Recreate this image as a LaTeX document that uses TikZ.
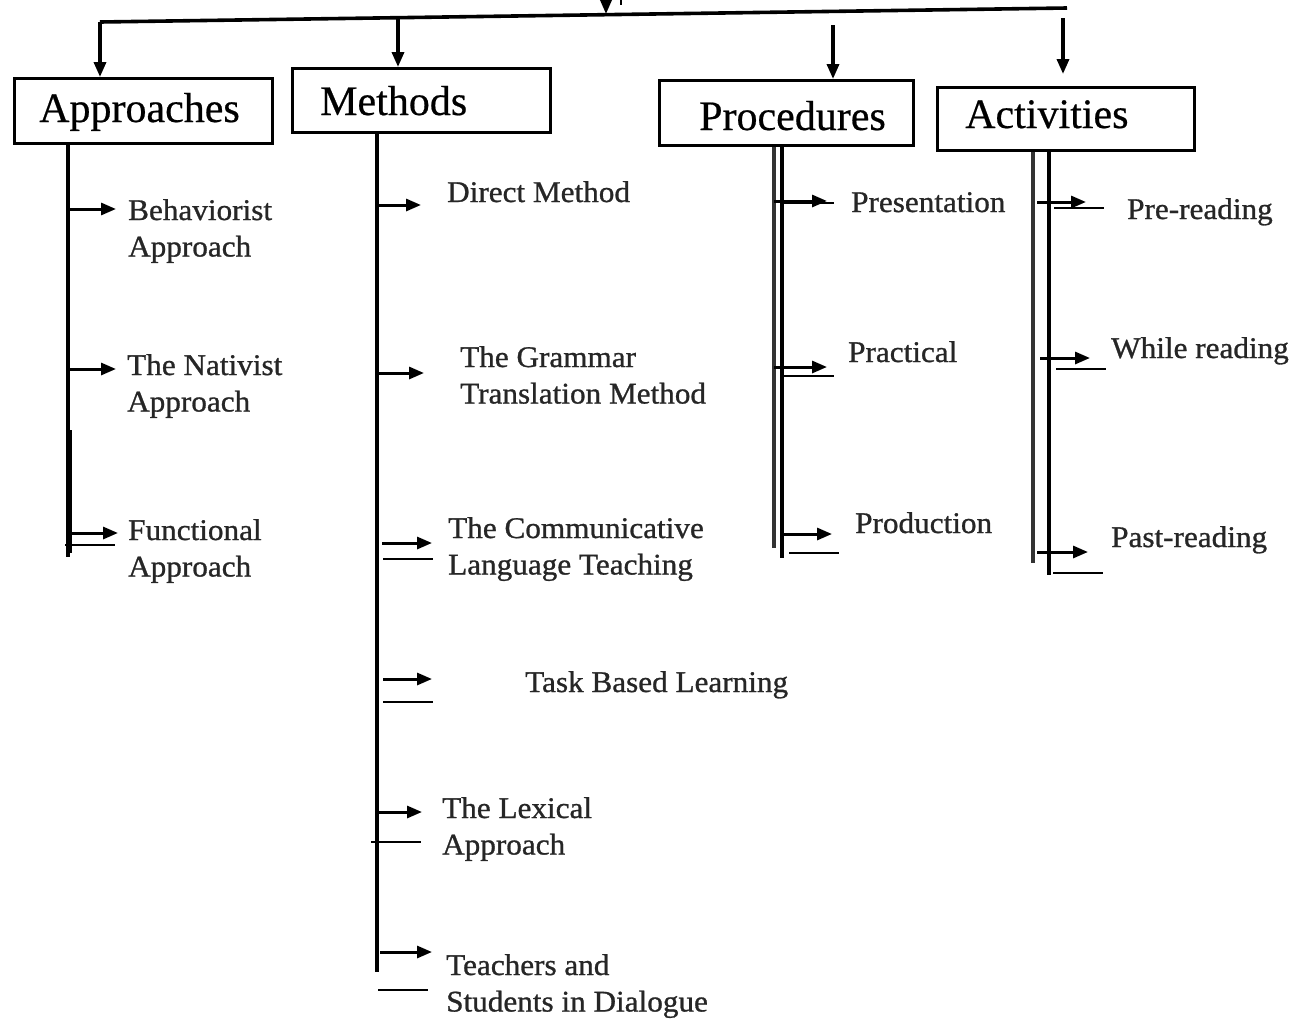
\documentclass[tikz,border=0pt]{standalone}
\usepackage{fontspec}
\setmainfont{Liberation Serif}[FakeBold=0.4]
\newfontfamily\lblfont{Liberation Serif}[FakeStretch=1.04,FakeBold=0.9]
\newfontfamily\boxfont{Liberation Serif}[FakeBold=0.5]
\usetikzlibrary{arrows.meta}
\newcommand\twolines[2]{\begin{tabular}[t]{@{}l@{}}#1\\#2\end{tabular}}
\begin{document}
\begin{tikzpicture}[x=1pt,y=-1pt,
  trunk/.style={line width=3.6pt},
  trunkg/.style={line width=3.2pt,black!80},
  arr/.style={line width=3pt,-{Triangle[length=15pt,width=12pt]}},
  uline/.style={line width=1.8pt},
  box/.style={draw,line width=3.4pt,inner sep=0pt,anchor=north west},
  boxtxt/.style={font=\boxfont\fontsize{42}{50}\selectfont,anchor=base west,inner sep=0pt},
  lbl/.style={font=\lblfont\fontsize{30}{36.5}\selectfont,anchor=base west,inner sep=0pt,text=black!85}]
\useasboundingbox (0,0) rectangle (1302,1023);

% ---------- boxes ----------
\node[box,minimum width=258pt,minimum height=65pt] (appr) at (13,77) {};
\node[boxtxt] (apprt) at (39,122) {Approaches};
\node[box,minimum width=258pt,minimum height=64pt] (meth) at (291,67) {};
\node[boxtxt] (metht) at (320,115) {Methods};
\node[box,minimum width=254pt,minimum height=65pt] (proc) at (658,79) {};
\node[boxtxt] (proct) at (699,130) {Procedures};
\node[box,minimum width=257pt,minimum height=63pt] (act) at (936,86) {};
\node[boxtxt] (actt) at (965,128) {Activities};

% ---------- top distribution ----------
\coordinate (tl) at (100,22);
\coordinate (tr) at (1067,8);
\draw[trunk] (tl) -- (tr);
\coordinate (topin) at (606,0);
\coordinate (topout) at (606,14);
\draw[arr] (topin) -- (topout);
\coordinate (tk1) at (621,0);
\coordinate (tk2) at (621,5);
\draw[uline] (tk1) -- (tk2);
\draw[arr,line width=3.4pt] (tl) -- (tl |- appr.north);
\coordinate (mtop) at (398,18);
\draw[arr,line width=3.4pt] (mtop) -- (mtop |- meth.north);
\coordinate (ptop) at (833,25);
\draw[arr,line width=3.4pt] (ptop) -- (ptop |- proc.north);
\coordinate (atop) at (1063,18);
\draw[arr,line width=3.4pt,shorten >=12pt] (atop) -- (atop |- act.north);

% ---------- Approaches ----------
\coordinate (atr) at (68,557);
\draw[trunk] (appr.south -| atr) -- (atr);
\coordinate (atr2a) at (70,430);
\coordinate (atr2b) at (70,553);
\draw[trunk] (atr2a) -- (atr2b);
\node[lbl] (beh) at (128,220) {\twolines{Behaviorist}{Approach}};
\node[lbl] (nat) at (127,375) {\twolines{The Nativist}{Approach}};
\node[lbl] (fun) at (128,540) {\twolines{Functional}{Approach}};
\coordinate (a1s) at (68,209);  \coordinate (a1e) at (116,209);
\coordinate (a2s) at (68,369);  \coordinate (a2e) at (116,369);
\coordinate (a3s) at (71,533);  \coordinate (a3e) at (118,533);
\draw[arr] (a1s) -- (a1e);
\draw[arr] (a2s) -- (a2e);
\draw[arr] (a3s) -- (a3e);
\coordinate (au1) at (65,545); \coordinate (au2) at (115,545);
\draw[uline] (au1) -- (au2);

% ---------- Methods ----------
\coordinate (mtr) at (377,972);
\draw[trunk] (meth.south -| mtr) -- (mtr);
\node[lbl] (dir) at (447,202) {Direct Method};
\node[lbl] (gtm) at (460,367) {\twolines{The Grammar}{Translation Method}};
\node[lbl] (clt) at (448,538) {\twolines{The Communicative}{Language Teaching}};
\node[lbl] (tbl) at (525,692) {Task Based Learning};
\node[lbl] (lex) at (442,818) {\twolines{The Lexical}{Approach}};
\node[lbl] (tsd) at (446,975) {\twolines{Teachers and}{Students in Dialogue}};
\coordinate (m1s) at (377,205); \coordinate (m1e) at (421,205);
\coordinate (m2s) at (377,373); \coordinate (m2e) at (424,373);
\coordinate (m3s) at (382,543); \coordinate (m3e) at (432,543);
\coordinate (m4s) at (383,679); \coordinate (m4e) at (432,679);
\coordinate (m5s) at (377,812); \coordinate (m5e) at (422,812);
\coordinate (m6s) at (380,952); \coordinate (m6e) at (432,952);
\draw[arr] (m1s) -- (m1e);
\draw[arr] (m2s) -- (m2e);
\draw[arr] (m3s) -- (m3e);
\draw[arr] (m4s) -- (m4e);
\draw[arr] (m5s) -- (m5e);
\draw[arr] (m6s) -- (m6e);
\coordinate (mu1a) at (383,559); \coordinate (mu1b) at (433,559);
\coordinate (mu2a) at (383,702); \coordinate (mu2b) at (433,702);
\coordinate (mu3a) at (371,842); \coordinate (mu3b) at (421,842);
\coordinate (mu4a) at (378,990); \coordinate (mu4b) at (428,990);
\draw[uline] (mu1a) -- (mu1b);
\draw[uline] (mu2a) -- (mu2b);
\draw[uline] (mu3a) -- (mu3b);
\draw[uline] (mu4a) -- (mu4b);

% ---------- Procedures ----------
\coordinate (ptr1) at (774,548);
\coordinate (ptr2) at (782,558);
\draw[trunkg] (proc.south -| ptr1) -- (ptr1);
\draw[trunk] (proc.south -| ptr2) -- (ptr2);
\node[lbl] (pres) at (851,212) {Presentation};
\node[lbl] (prac) at (848,362) {Practical};
\node[lbl] (prod) at (855,533) {Production};
\coordinate (p1s) at (774,201); \coordinate (p1e) at (827,201);
\coordinate (p2s) at (774,367); \coordinate (p2e) at (827,367);
\coordinate (p3s) at (782,534); \coordinate (p3e) at (832,534);
\draw[arr] (p1s) -- (p1e);
\draw[arr] (p2s) -- (p2e);
\draw[arr] (p3s) -- (p3e);
\coordinate (pu1a) at (782,203); \coordinate (pu1b) at (834,203);
\coordinate (pu2a) at (782,376); \coordinate (pu2b) at (834,376);
\coordinate (pu3a) at (789,553); \coordinate (pu3b) at (839,553);
\draw[uline] (pu1a) -- (pu1b);
\draw[uline] (pu2a) -- (pu2b);
\draw[uline] (pu3a) -- (pu3b);

% ---------- Activities ----------
\coordinate (ctr1) at (1033,563);
\coordinate (ctr2) at (1049,575);
\draw[trunkg] (act.south -| ctr1) -- (ctr1);
\draw[trunk] (act.south -| ctr2) -- (ctr2);
\node[lbl] (pre) at (1127,219) {Pre-reading};
\node[lbl] (whi) at (1111,358) {While reading};
\node[lbl] (pas) at (1111,547) {Past-reading};
\coordinate (c1s) at (1037,202); \coordinate (c1e) at (1086,202);
\coordinate (c2s) at (1040,358); \coordinate (c2e) at (1090,358);
\coordinate (c3s) at (1037,552); \coordinate (c3e) at (1088,552);
\draw[arr] (c1s) -- (c1e);
\draw[arr] (c2s) -- (c2e);
\draw[arr] (c3s) -- (c3e);
\coordinate (cu1a) at (1054,208); \coordinate (cu1b) at (1104,208);
\coordinate (cu2a) at (1056,369); \coordinate (cu2b) at (1106,369);
\coordinate (cu3a) at (1053,573); \coordinate (cu3b) at (1103,573);
\draw[uline] (cu1a) -- (cu1b);
\draw[uline] (cu2a) -- (cu2b);
\draw[uline] (cu3a) -- (cu3b);
\end{tikzpicture}
\end{document}
